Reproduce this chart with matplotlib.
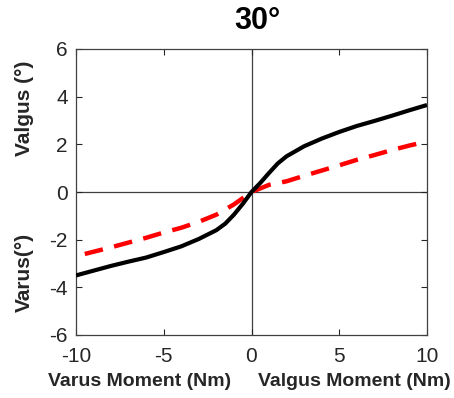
import matplotlib
matplotlib.use("Agg")
import matplotlib.pyplot as plt

plt.rcParams['font.family'] = ['Liberation Sans', 'DejaVu Sans']
plt.rcParams['axes.unicode_minus'] = False

# Data
black_x = [-10, -9, -8, -7, -6, -5, -4, -3, -2, -1.5, -1, -0.5, 0, 0.5, 1, 1.5, 2, 3, 4, 5, 6, 7, 8, 9, 10]
black_y = [-3.5, -3.3, -3.1, -2.92, -2.75, -2.52, -2.28, -1.97, -1.6, -1.33, -0.95, -0.5, 0, 0.38, 0.8, 1.2, 1.5, 1.92, 2.24, 2.52, 2.77, 2.98, 3.2, 3.43, 3.65]
red_x = [-9.5, -8, -7, -6, -5, -4, -3, -2, -1, 0, 1, 2, 3, 4, 5, 6, 7, 8, 9, 10]
red_y = [-2.6, -2.32, -2.12, -1.92, -1.7, -1.5, -1.25, -0.95, -0.52, 0, 0.3, 0.45, 0.68, 0.9, 1.12, 1.35, 1.55, 1.76, 1.95, 2.12]
xticks = [-10, -5, 0, 5, 10]
yticks = [-6, -4, -2, 0, 2, 4, 6]

fig = plt.figure(figsize=(4.54, 3.98), dpi=100)
ax = fig.add_axes([76/454, 1-335/398, (427-76)/454, (335-49)/398])

gray = '#262626'
ax.axhline(0, color='#404040', lw=0.9, zorder=1)
ax.axvline(0, color='#404040', lw=0.9, zorder=1)
ax.plot(black_x, black_y, color='black', lw=3.0, zorder=3, solid_capstyle='butt')
ax.plot(red_x, red_y, color='#ff0000', lw=3.2, ls=(0, (4.2, 2.6)), zorder=2, dash_capstyle='butt')

ax.set_xlim(-10, 10)
ax.set_ylim(-6, 6)
ax.set_xticks(xticks)
ax.set_yticks(yticks)
ax.tick_params(direction='in', length=4, width=0.8, colors=gray, labelsize=15,
               top=True, right=True)
ax.tick_params(axis='x', pad=9)
ax.tick_params(axis='y', pad=6)
for s in ax.spines.values():
    s.set_color('#404040')
    s.set_linewidth(0.9)

fig.text(257/454, 1-21/398, '30°', ha='center', va='center', fontsize=22, fontweight='bold', color='black')
fig.text(24/454, 1-108/398, 'Valgus (°)', rotation=90, ha='center', va='center', fontsize=15, fontweight='bold', color=gray)
fig.text(24/454, 1-272/398, 'Varus(°)', rotation=90, ha='center', va='center', fontsize=15, fontweight='bold', color=gray)
fig.text(140/454, 1-381/398, 'Varus Moment (Nm)', ha='center', va='center', fontsize=14, fontweight='bold', color=gray)
fig.text(354/454, 1-381/398, 'Valgus Moment (Nm)', ha='center', va='center', fontsize=14, fontweight='bold', color=gray)

fig.savefig('out.png', dpi=100)
